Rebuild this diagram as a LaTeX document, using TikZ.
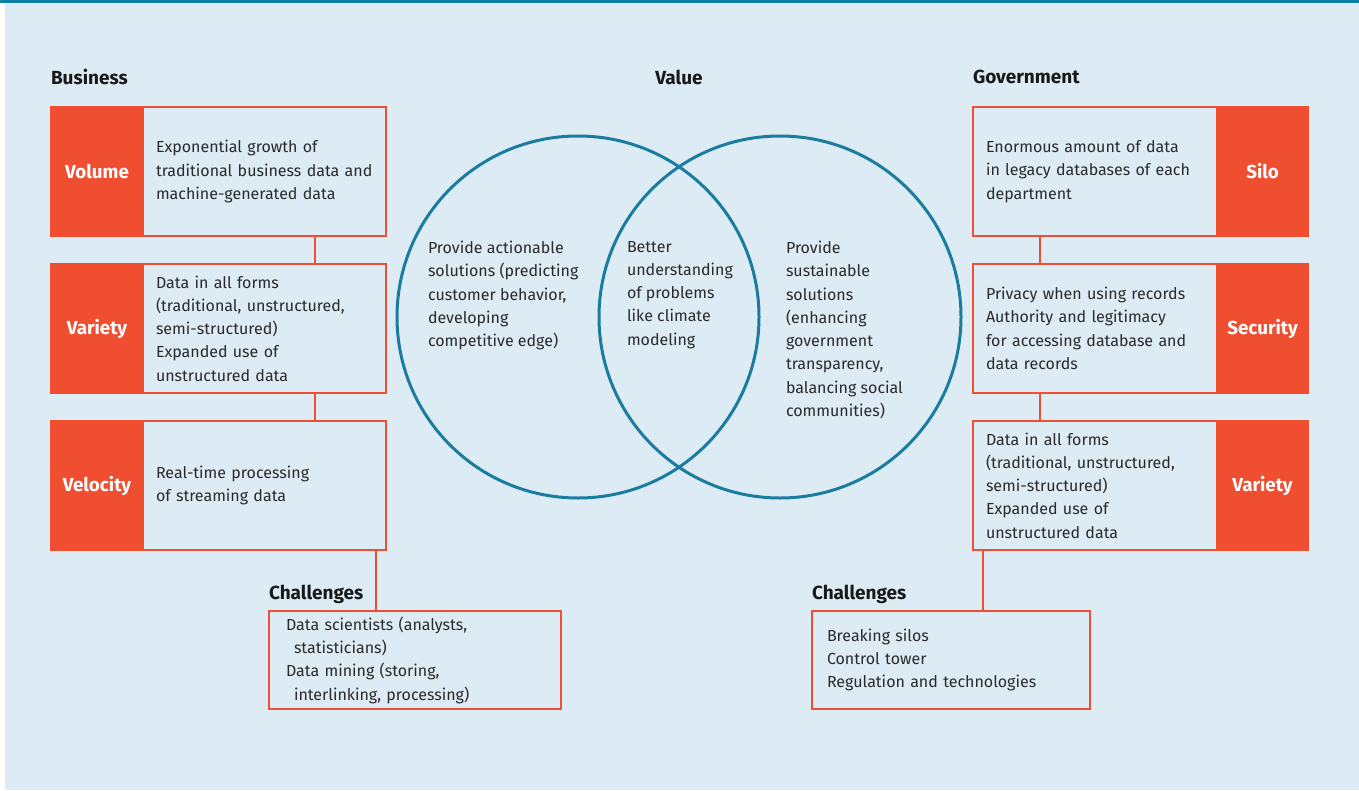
\documentclass[tikz,border=0pt]{standalone}
\usepackage{fontspec}
\setmainfont{Fira Sans}
\usetikzlibrary{positioning, calc}

\definecolor{bgblue}{HTML}{DDEBF4}
\definecolor{topblue}{HTML}{0F7EA6}
\definecolor{vennblue}{HTML}{1A7C9F}
\definecolor{boxred}{HTML}{F04E30}
\definecolor{txtgray}{HTML}{2A2A2A}

\begin{document}
\begin{tikzpicture}[x=1pt, y=-1pt,
    every node/.style={font=\fontsize{16}{23.3}\selectfont, text=txtgray, outer sep=0},
    heading/.style={font=\fontsize{19}{22}\selectfont\bfseries, text=black!90, inner sep=0, anchor=west},
    tagbox/.style={fill=boxred, draw=boxred, line width=2.5pt, minimum width=92pt, minimum height=129pt,
        font=\fontsize{18.8}{22}\selectfont\bfseries, text=white, inner sep=0},
    infobox/.style={draw=boxred, line width=2.5pt, minimum height=129pt, text width=219pt,
        inner xsep=12pt, align=left},
    chalbox/.style={draw=boxred, line width=2.5pt, minimum height=98pt, align=left, anchor=north west},
    link/.style={draw=boxred, line width=2.5pt},
    venn/.style={circle, draw=vennblue, line width=3pt, minimum size=362pt, inner sep=0},
    venntext/.style={anchor=north west, align=left, inner sep=0}]

    \useasboundingbox (0,0) rectangle (1359,790);

    % Background panel
    \fill[bgblue] (5,0) rectangle (1359,790);
    \fill[topblue] (0,0) rectangle (1359,2.5);

    % Headings
    \node[heading] (bizHead) at (51,77) {Business};
    \node[heading, anchor=center] (valHead) at (679,77) {Value};
    \node[heading] (govHead) at (973,77) {Government};

    % Value circles
    \node[venn] (bizCirc) at (578,317) {};
    \node[venn] (govCirc) at (780,317) {};

    \node[venntext] (bizVal) at (428,241) {Provide actionable\\solutions (predicting\\customer behavior,\\developing\\competitive edge)};
    \node[venntext] (sharedVal) at (627,241) {Better\\understanding\\of problems\\like climate\\modeling};
    \node[venntext] (govVal) at (786,241) {Provide\\sustainable\\solutions\\(enhancing\\government\\transparency,\\balancing social\\communities)};

    % Business column
    \node[tagbox, anchor=north west] (volTag) at (51,107) {Volume};
    \node[infobox, anchor=north west] (volInfo) at (volTag.north east) {\hspace*{1pt}Exponential growth of\\\hspace*{1pt}traditional business data and\\\hspace*{1pt}machine-generated data};
    \node[tagbox, below=28pt of volTag] (varTag) {Variety};
    \node[infobox, anchor=north west] (varInfo) at (varTag.north east) {\hspace*{1pt}Data in all forms\\\hspace*{1pt}(traditional, unstructured,\\\hspace*{1pt}semi-structured)\\\hspace*{1pt}Expanded use of\\\hspace*{1pt}unstructured data};
    \node[tagbox, below=28pt of varTag] (velTag) {Velocity};
    \node[infobox, anchor=north west] (velInfo) at (velTag.north east) {\hspace*{1pt}Real-time processing\\\hspace*{1pt}of streaming data};

    % Government column
    \node[infobox, anchor=north west, text width=218pt, inner xsep=13pt] (siloInfo) at (973,107) {Enormous amount of data\\in legacy databases of each\\department};
    \node[tagbox, anchor=north west, minimum width=91pt] (siloTag) at (siloInfo.north east) {Silo};
    \node[infobox, below=28pt of siloInfo, text width=218pt, inner xsep=13pt] (secInfo) {Privacy when using records\\Authority and legitimacy\\for accessing database and\\data records};
    \node[tagbox, anchor=north west, minimum width=91pt] (secTag) at (secInfo.north east) {Security};
    \node[infobox, below=28pt of secInfo, text width=218pt, inner xsep=13pt] (gvarInfo) {Data in all forms\\(traditional, unstructured,\\semi-structured)\\Expanded use of\\unstructured data};
    \node[tagbox, anchor=north west, minimum width=91pt] (gvarTag) at (gvarInfo.north east) {Variety};

    % Challenges
    \node[heading] (bizChHead) at (269,594) {Challenges};
    \node[chalbox, minimum width=292pt, text width=258pt, inner xsep=17pt] (bizChal) at (269,611)
        {Data scientists (analysts,\\\hspace*{8pt}statisticians)\\Data mining (storing,\\\hspace*{8pt}interlinking, processing)};
    \node[heading] (govChHead) at (812,594) {Challenges};
    \node[chalbox, minimum width=278pt, text width=248pt, inner xsep=15pt] (govChal) at (812,611)
        {Breaking silos\\Control tower\\Regulation and technologies};

    % Connectors
    \coordinate (bizSpine) at (315,0);
    \coordinate (bizDrop) at (376,0);
    \coordinate (govSpine) at (1040,0);
    \coordinate (govDrop) at (983,0);
    \draw[link] (volInfo.south -| bizSpine) -- (varInfo.north -| bizSpine);
    \draw[link] (varInfo.south -| bizSpine) -- (velInfo.north -| bizSpine);
    \draw[link] (velInfo.south -| bizDrop) -- (bizChal.north -| bizDrop);
    \draw[link] (siloInfo.south -| govSpine) -- (secInfo.north -| govSpine);
    \draw[link] (secInfo.south -| govSpine) -- (gvarInfo.north -| govSpine);
    \draw[link] (gvarInfo.south -| govDrop) -- (govChal.north -| govDrop);
\end{tikzpicture}
\end{document}
